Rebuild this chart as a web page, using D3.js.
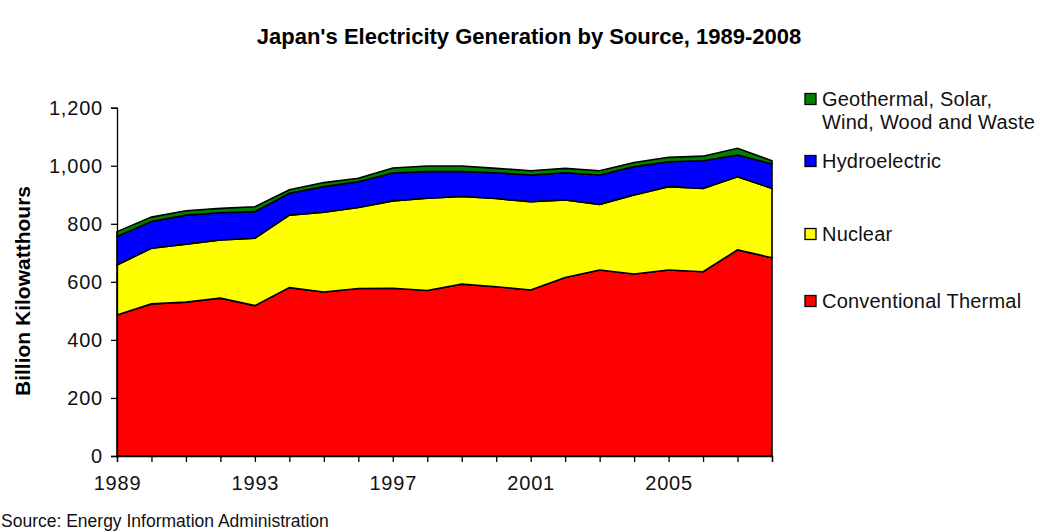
<!DOCTYPE html>
<html>
<head>
<meta charset="utf-8">
<script src="https://cdn.jsdelivr.net/npm/d3@7"></script>
<style>
  html, body { margin: 0; padding: 0; background: #fff; }
  svg { display: block; font-family: Arial, "Liberation Sans", sans-serif; }
</style>
</head>
<body>
<svg id="chart" width="1054" height="531"></svg>
<script>
// Japan's electricity generation by source (billion kWh)
const years = [1989, 1990, 1991, 1992, 1993, 1994, 1995, 1996, 1997, 1998,
               1999, 2000, 2001, 2002, 2003, 2004, 2005, 2006, 2007, 2008];
const thermal = [486, 524, 530, 544, 518, 580, 565, 577, 578, 570,
                 592, 583, 572, 615, 641, 627, 641, 635, 710, 683];
const nuclear = [172, 192, 200, 200, 232, 250, 275, 279, 301, 318,
                 302, 304, 304, 267, 226, 272, 287, 287, 252, 239];
const hydro = [98, 92, 100, 94, 92, 75, 88, 89, 96, 92,
               86, 89, 92, 94, 101, 98, 86, 95, 75, 84];
const renewables = [17, 15, 15, 15, 17, 12, 14, 12, 17, 19,
                    19, 15, 15, 15, 15, 14, 15, 16, 23, 11];

const seriesKeys = ["thermal", "nuclear", "hydro", "renewables"];
const seriesColors = ["#ff0000", "#ffff00", "#0000ff", "#008000"];
const legendLabels = [
  ["Geothermal, Solar,", "Wind, Wood and Waste"],
  ["Hydroelectric"],
  ["Nuclear"],
  ["Conventional Thermal"]
];
const yTicks = [0, 200, 400, 600, 800, 1000, 1200];
const xLabelYears = [1989, 1993, 1997, 2001, 2005];

const rows = years.map((yr, i) => ({
  year: yr, thermal: thermal[i], nuclear: nuclear[i],
  hydro: hydro[i], renewables: renewables[i]
}));

const svg = d3.select("#chart");
const plotLeft = 117, plotRight = 772, plotTop = 107.7, plotBottom = 456;

const x = d3.scaleLinear().domain([1989, 2008]).range([plotLeft, plotRight]);
const y = d3.scaleLinear().domain([0, 1200]).range([plotBottom, plotTop]);

const stacked = d3.stack().keys(seriesKeys)(rows);

const area = d3.area()
  .x(d => x(d.data.year))
  .y0(d => y(d[0]))
  .y1(d => y(d[1]));

svg.append("g")
  .selectAll("path")
  .data(stacked)
  .join("path")
  .attr("d", area)
  .attr("fill", (d, i) => seriesColors[i])
  .attr("stroke", "#000")
  .attr("stroke-width", 1.6)
  .attr("stroke-linejoin", "miter");

// Y axis
const yAxis = d3.axisLeft(y)
  .tickValues(yTicks)
  .tickSize(6)
  .tickPadding(8)
  .tickFormat(d3.format(","));
const gy = svg.append("g")
  .attr("transform", `translate(${plotLeft},0)`)
  .call(yAxis);
gy.select(".domain").attr("stroke", "#000").attr("stroke-width", 1.3);
gy.selectAll(".tick line").attr("stroke", "#000").attr("stroke-width", 1.3);
gy.selectAll(".tick text")
  .attr("font-size", 20)
  .attr("letter-spacing", 0.8)
  .attr("fill", "#111");

// X axis: a tick every year, labels every fourth year
const xAxis = d3.axisBottom(x)
  .tickValues(years)
  .tickSize(6)
  .tickPadding(14)
  .tickFormat(d => xLabelYears.includes(d) ? String(d) : "");
const gx = svg.append("g")
  .attr("transform", `translate(0,${plotBottom})`)
  .call(xAxis);
gx.select(".domain").attr("stroke", "#000").attr("stroke-width", 1.3);
gx.selectAll(".tick line").attr("stroke", "#000").attr("stroke-width", 1.3);
gx.selectAll(".tick text")
  .attr("font-size", 20)
  .attr("letter-spacing", 0.8)
  .attr("fill", "#111");

// Title
svg.append("text")
  .attr("x", 529)
  .attr("y", 44)
  .attr("text-anchor", "middle")
  .attr("font-size", 22)
  .attr("font-weight", "bold")
  .attr("fill", "#000")
  .text("Japan's Electricity Generation by Source, 1989-2008");

// Y axis title
svg.append("text")
  .attr("transform", "translate(30,291) rotate(-90)")
  .attr("text-anchor", "middle")
  .attr("font-size", 21)
  .attr("font-weight", "bold")
  .attr("fill", "#000")
  .text("Billion Kilowatthours");

// Source note
svg.append("text")
  .attr("x", 1)
  .attr("y", 527)
  .attr("font-size", 17.5)
  .attr("fill", "#111")
  .text("Source: Energy Information Administration");

// Legend, top entry first
const legendColors = [seriesColors[3], seriesColors[2], seriesColors[1], seriesColors[0]];
const legendY = [99, 161, 234, 301];
const legend = svg.append("g");
legendLabels.forEach((lines, i) => {
  const cy = legendY[i];
  legend.append("rect")
    .attr("x", 805).attr("y", cy - 5.5)
    .attr("width", 11).attr("height", 11)
    .attr("fill", legendColors[i])
    .attr("stroke", "#000").attr("stroke-width", 1.3);
  lines.forEach((line, j) => {
    legend.append("text")
      .attr("x", 822)
      .attr("y", cy + 7 + j * 23)
      .attr("font-size", 20)
      .attr("letter-spacing", 0.2)
      .attr("fill", "#111")
      .text(line);
  });
});
</script>
</body>
</html>
